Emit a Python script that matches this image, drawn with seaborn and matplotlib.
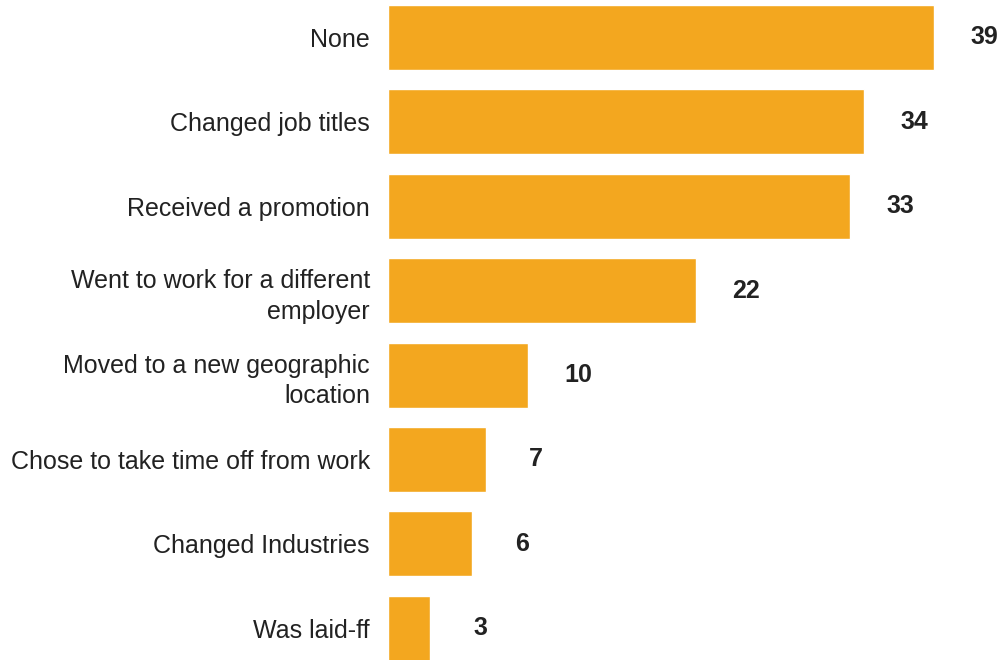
import matplotlib
matplotlib.use("Agg")
import matplotlib.pyplot as plt
import seaborn as sns
import pandas as pd

categories = [
    "None",
    "Changed job titles",
    "Received a promotion",
    "Went to work for a different\nemployer",
    "Moved to a new geographic\nlocation",
    "Chose to take time off from work",
    "Changed Industries",
    "Was laid-ff",
]
values = [39, 34, 33, 22, 10, 7, 6, 3]

bar_color = "#F3A71F"
text_color = "#222222"

sns.set_theme(style="white")
plt.rcParams["font.family"] = ["Liberation Sans", "DejaVu Sans"]

df = pd.DataFrame({"category": categories, "value": values})

fig = plt.figure(figsize=(9.98, 6.6), dpi=100)
ax = fig.add_axes([388 / 998, 0, 610 / 998, 1])

sns.barplot(data=df, y="category", x="value", orient="h", color=bar_color,
            saturation=1, width=0.77, ax=ax)

ax.set_xlim(0, 610 / 14)
ax.set_ylim(7.376, -0.444)
ax.set_xlabel("")
ax.set_ylabel("")
ax.set_xticks([])
for s in ax.spines.values():
    s.set_visible(False)
ax.tick_params(axis="y", length=0, pad=13, labelsize=18, labelcolor=text_color)
for lbl in ax.get_yticklabels():
    lbl.set_linespacing(1.35)

for i, v in enumerate(values):
    ax.text(v + 50 / 14, i, str(v), ha="center", va="center",
            fontsize=18, fontweight="bold", color=text_color)

fig.savefig("out.png", dpi=100)
